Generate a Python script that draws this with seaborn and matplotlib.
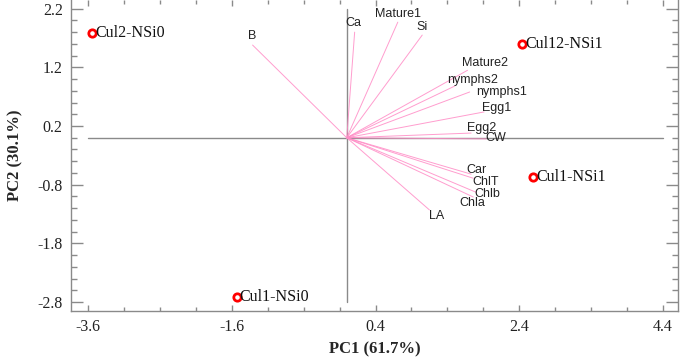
import matplotlib
matplotlib.use("Agg")
import matplotlib.pyplot as plt
import seaborn as sns
import pandas as pd
from matplotlib.ticker import MultipleLocator, FormatStrFormatter

# ---- data ----
sample_names = ["Cul2-NSi0", "Cul12-NSi1", "Cul1-NSi1", "Cul1-NSi0"]
sample_pc1 = [-3.54, 2.44, 2.59, -1.53]
sample_pc2 = [1.79, 1.60, -0.67, -2.72]

var_names = ["B", "Ca", "Mature1", "Si", "Mature2", "nymphs2", "nymphs1",
             "Egg1", "Egg2", "CW", "Car", "ChlT", "Chlb", "Chla", "LA"]
var_pc1 = [-1.31, 0.11, 0.71, 1.05, 1.68, 1.50, 1.71,
           1.91, 1.73, 1.94, 1.73, 1.76, 1.80, 1.76, 1.15]
var_pc2 = [1.58, 1.80, 1.97, 1.75, 1.15, 0.88, 0.78,
           0.44, 0.08, -0.02, -0.62, -0.69, -0.93, -1.01, -1.23]

xlabel = "PC1 (61.7%)"
ylabel = "PC2 (30.1%)"

# label offsets (pixels) relative to vector ends
label_off = {"B": (0, 9), "Ca": (-1, 9), "Mature1": (0, 8), "Si": (0, 8),
             "Mature2": (17, 7), "nymphs2": (18, 6), "nymphs1": (32, 0),
             "Egg1": (13, 4), "Egg2": (11, 5), "CW": (10, 1), "Car": (5, 4),
             "ChlT": (12, -4), "Chlb": (11, -2), "Chla": (-1, -6), "LA": (7, -6)}

samples = pd.DataFrame({"name": sample_names, "PC1": sample_pc1, "PC2": sample_pc2})

sns.set_style("ticks")
plt.rcParams["font.family"] = ["Liberation Serif", "DejaVu Serif"]

fig = plt.figure(figsize=(6.8, 3.58), dpi=100)
ax = fig.add_axes([71 / 680, 1 - 311 / 358, 607 / 680, 311 / 358])

grey = "#8a8a8a"
# reference lines
ax.plot([-3.6, 4.4], [0, 0], color=grey, lw=1.0, zorder=1)
ax.plot([0, 0], [-2.8, 2.2], color=grey, lw=1.0, zorder=1)

# loading vectors
for n, x, y in zip(var_names, var_pc1, var_pc2):
    ax.plot([0, x], [0, y], color="#ff8cc6", lw=0.7, alpha=0.85, zorder=2)
    dx, dy = label_off[n]
    ax.annotate(n, (x, y), xytext=(dx, dy), textcoords="offset pixels",
                ha="center", va="center", fontsize=9,
                family=["Liberation Sans", "DejaVu Sans"], color="#222222", zorder=4)

# sample points
sns.scatterplot(data=samples, x="PC1", y="PC2", ax=ax, s=28, marker="o",
                facecolor="white", edgecolor="red", linewidth=2.0, zorder=5)
for n, x, y in zip(sample_names, sample_pc1, sample_pc2):
    ax.annotate(n, (x, y), xytext=(3, 0), textcoords="offset pixels",
                ha="left", va="center", fontsize=11.5, color="#111111", zorder=6)

ax.set_xlim(-3.836, 4.608)
ax.set_ylim(-2.953, 2.348)

ax.xaxis.set_major_locator(MultipleLocator(2, offset=0.4))
ax.xaxis.set_minor_locator(MultipleLocator(0.5, offset=0.4))
ax.yaxis.set_major_locator(MultipleLocator(1, offset=0.2))
ax.yaxis.set_minor_locator(MultipleLocator(0.2))
ax.xaxis.set_major_formatter(FormatStrFormatter("%.1f"))
ax.yaxis.set_major_formatter(FormatStrFormatter("%.1f"))

ax.tick_params(axis="both", which="both", direction="in", top=True, right=True,
               color=grey, width=1.0, labelsize=11.5, labelcolor="#222222")
ax.tick_params(axis="y", which="major", length=8.5, pad=6)
ax.tick_params(axis="y", which="minor", length=4.5)
ax.tick_params(axis="x", which="major", length=4.5, pad=6)
ax.tick_params(axis="x", which="minor", length=3)

for s in ["left", "bottom", "right"]:
    ax.spines[s].set_color(grey)
    ax.spines[s].set_linewidth(1.0)
ax.spines["top"].set_visible(False)

ax.set_xlabel(xlabel, fontsize=12, fontweight="bold")
ax.set_ylabel(ylabel, fontsize=12, fontweight="bold")
ax.xaxis.set_label_coords(0.5, -0.097)
ax.yaxis.set_label_coords(-0.078, 0.5)

fig.savefig("out.png", dpi=100)
